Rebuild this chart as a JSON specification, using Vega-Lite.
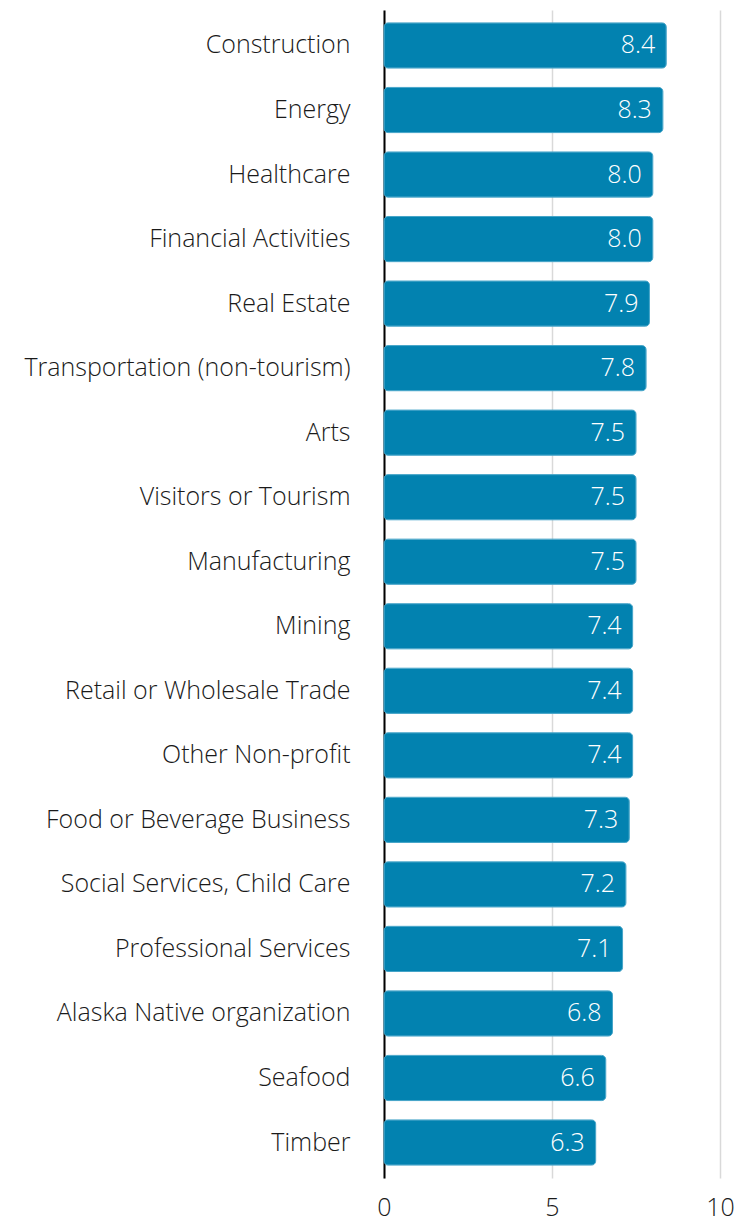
{
  "$schema": "https://vega.github.io/schema/vega-lite/v6.json",
  "autosize": {"type": "none"},
  "width": 336,
  "height": 1168,
  "padding": {"left": 384, "top": 10, "right": 29, "bottom": 44},
  "background": "white",
  "config": {"view": {"stroke": null}, "font": "Open Sans"},
  "data": {"values": [
    {"sector": "Construction", "value": 8.4},
    {"sector": "Energy", "value": 8.3},
    {"sector": "Healthcare", "value": 8.0},
    {"sector": "Financial Activities", "value": 8.0},
    {"sector": "Real Estate", "value": 7.9},
    {"sector": "Transportation (non-tourism)", "value": 7.8},
    {"sector": "Arts", "value": 7.5},
    {"sector": "Visitors or Tourism", "value": 7.5},
    {"sector": "Manufacturing", "value": 7.5},
    {"sector": "Mining", "value": 7.4},
    {"sector": "Retail or Wholesale Trade", "value": 7.4},
    {"sector": "Other Non-profit", "value": 7.4},
    {"sector": "Food or Beverage Business", "value": 7.3},
    {"sector": "Social Services, Child Care", "value": 7.2},
    {"sector": "Professional Services", "value": 7.1},
    {"sector": "Alaska Native organization", "value": 6.8},
    {"sector": "Seafood", "value": 6.6},
    {"sector": "Timber", "value": 6.3}
  ]},
  "encoding": {
    "y": {"field": "sector", "type": "nominal", "sort": null,
      "scale": {"paddingInner": 0.3, "paddingOuter": 0.2},
      "axis": {"title": null, "ticks": false, "domain": true, "domainColor": "#000000", "domainWidth": 2,
        "labelFontSize": 25, "labelFontWeight": 300, "labelColor": "#1a1a1a", "labelPadding": 34, "labelLimit": 400}},
    "x": {"field": "value", "type": "quantitative",
      "scale": {"domain": [0, 10], "nice": false},
      "axis": {"title": null, "values": [0, 5, 10], "ticks": false, "domain": false,
        "grid": true, "gridColor": "#d9d9d9", "gridWidth": 1.5,
        "labelFontSize": 25, "labelFontWeight": 300, "labelColor": "#1a1a1a", "labelPadding": 17, "labelFlush": false}}
  },
  "layer": [
    {"mark": {"type": "bar", "color": "#0282b0", "stroke": "#45a4c8", "strokeWidth": 1, "cornerRadius": 4}},
    {"mark": {"type": "text", "align": "right", "dx": -11, "fontSize": 25, "fontWeight": 300, "color": "white", "baseline": "middle"},
      "encoding": {"text": {"field": "value", "type": "quantitative", "format": ".1f"}}}
  ]
}
